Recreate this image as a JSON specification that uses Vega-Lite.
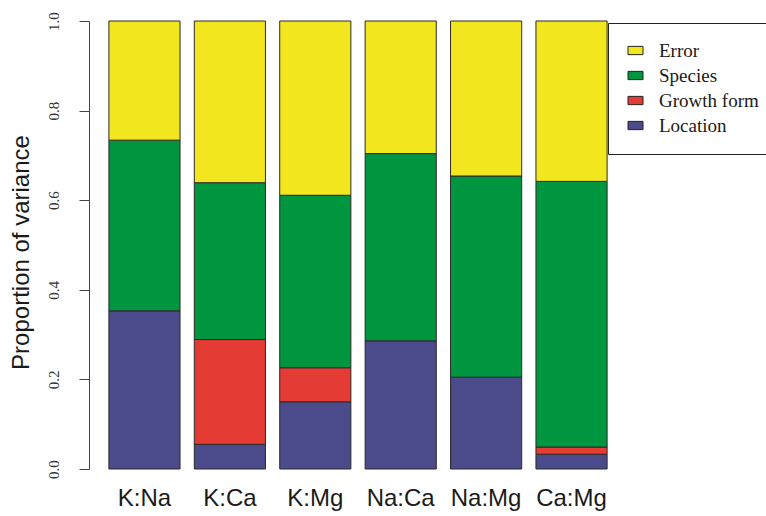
{
  "$schema": "https://vega.github.io/schema/vega-lite/v6.json",
  "width": 510,
  "height": 448,
  "autosize": {"type": "none"},
  "padding": {"left": 103, "top": 21, "right": 153, "bottom": 47},
  "background": "white",
  "view": {"stroke": null},
  "data": {
    "values": [
      {"pair": "K:Na", "component": "Location", "value": 0.353},
      {"pair": "K:Na", "component": "Species", "value": 0.381},
      {"pair": "K:Na", "component": "Error", "value": 0.266},
      {"pair": "K:Ca", "component": "Location", "value": 0.055},
      {"pair": "K:Ca", "component": "Growth form", "value": 0.234},
      {"pair": "K:Ca", "component": "Species", "value": 0.350},
      {"pair": "K:Ca", "component": "Error", "value": 0.361},
      {"pair": "K:Mg", "component": "Location", "value": 0.150},
      {"pair": "K:Mg", "component": "Growth form", "value": 0.076},
      {"pair": "K:Mg", "component": "Species", "value": 0.385},
      {"pair": "K:Mg", "component": "Error", "value": 0.389},
      {"pair": "Na:Ca", "component": "Location", "value": 0.286},
      {"pair": "Na:Ca", "component": "Species", "value": 0.418},
      {"pair": "Na:Ca", "component": "Error", "value": 0.296},
      {"pair": "Na:Mg", "component": "Location", "value": 0.205},
      {"pair": "Na:Mg", "component": "Species", "value": 0.449},
      {"pair": "Na:Mg", "component": "Error", "value": 0.346},
      {"pair": "Ca:Mg", "component": "Location", "value": 0.033},
      {"pair": "Ca:Mg", "component": "Growth form", "value": 0.016},
      {"pair": "Ca:Mg", "component": "Species", "value": 0.593},
      {"pair": "Ca:Mg", "component": "Error", "value": 0.358}
    ]
  },
  "mark": {"type": "bar", "stroke": "#2a2a2a", "strokeWidth": 1},
  "encoding": {
    "x": {
      "field": "pair",
      "type": "nominal",
      "sort": ["K:Na", "K:Ca", "K:Mg", "Na:Ca", "Na:Mg", "Ca:Mg"],
      "scale": {"paddingInner": 0.167, "paddingOuter": 0.069},
      "axis": {
        "title": null,
        "domain": false,
        "ticks": false,
        "labelAngle": 0,
        "labelFont": "Liberation Sans",
        "labelFontSize": 24,
        "labelColor": "#1a1a1a",
        "labelPadding": 17
      }
    },
    "y": {
      "field": "value",
      "type": "quantitative",
      "stack": "zero",
      "scale": {"domain": [0, 1], "nice": false},
      "axis": {
        "title": "Proportion of variance",
        "titleFont": "Liberation Sans",
        "titleFontSize": 24,
        "titleFontWeight": "normal",
        "titleColor": "#1a1a1a",
        "titlePadding": 13,
        "titleY": 231,
        "values": [0, 0.2, 0.4, 0.6, 0.8, 1.0],
        "format": ".1f",
        "grid": false,
        "offset": 14,
        "domainColor": "#444",
        "tickColor": "#444",
        "tickSize": 10,
        "labelAngle": -90,
        "labelFont": "Liberation Serif",
        "labelFontSize": 15,
        "labelColor": "#333",
        "labelPadding": 18
      }
    },
    "order": {"field": "pair"},
    "color": {
      "field": "component",
      "type": "nominal",
      "scale": {
        "domain": ["Error", "Species", "Growth form", "Location"],
        "range": ["#F2E61E", "#00963F", "#E53B35", "#4B4A8A"]
      },
      "legend": {
        "title": null,
        "orient": "none",
        "legendX": 505,
        "legendY": 2,
        "strokeColor": "#222",
        "padding": 18,
        "symbolType": "M-1,-0.55H1V0.55H-1Z",
        "symbolSize": 225,
        "symbolStrokeColor": "#222",
        "symbolStrokeWidth": 1,
        "labelFont": "Liberation Serif",
        "labelFontSize": 19,
        "labelColor": "#1a1a1a",
        "labelOffset": 14,
        "labelLimit": 300,
        "rowPadding": 5
      }
    }
  }
}
